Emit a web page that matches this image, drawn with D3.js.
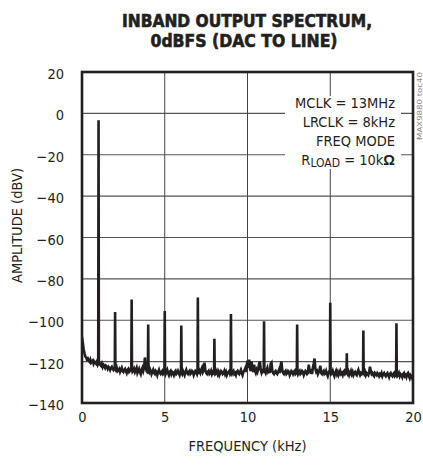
<!DOCTYPE html>
<html><head><meta charset="utf-8">
<script src="https://cdn.jsdelivr.net/npm/d3@7"></script>
<style>
body{margin:0;background:#fff}
svg{display:block}
text{font-family:"Liberation Sans Narrow","Arial Narrow","DejaVu Sans Condensed",sans-serif;fill:#231f20}
</style>
</head><body>
<svg id="chart" width="423" height="465"></svg>
<script>
// ---------------- data ----------------
const titleLines = ["INBAND OUTPUT SPECTRUM,", "0dBFS (DAC TO LINE)"];
const xLabel = "FREQUENCY (kHz)";
const yLabel = "AMPLITUDE (dBV)";
const xTicks = [0, 5, 10, 15, 20];
const yTicks = [20, 0, -20, -40, -60, -80, -100, -120, -140];
const legendLines = ["MCLK = 13MHz", "LRCLK = 8kHz", "FREQ MODE"];
const figureId = "MAX9880 toc40";

// noise floor sampled every 0.05 kHz, 0 .. 20 kHz (dBV)
const noiseStepKHz = 0.05;
const noiseFloor = [
 -108,-111,-114,-116,-117.5,-118,-119,-118.5,-119.5,-120,-119,-120.5,-120,-119.5,-121,-120,-120.5,-121,-120,-121.5,
 -121,-120.5,-121.5,-122,-121,-122.5,-121.5,-122,-123,-122,-122.5,-123.5,-122.5,-123,-124,-123,-122.5,-123.5,-124,-123,
 -123.5,-124,-123,-124.5,-124,-123.5,-125,-124,-123,-124.5,-125,-124,-123.5,-124.5,-125.5,-124,-123.5,-125,-124.5,-123.5,
 -124,-125,-124.5,-123.5,-125,-124,-123,-125.5,-124.5,-123.5,-125,-126,-124,-123,-124.5,-123,-118,-122.5,-124.5,-125,
 -124.5,-125,-123.5,-124.5,-126,-125,-124,-125.5,-126,-124.5,-125,-126.5,-125,-124,-125.5,-126,-125,-124.5,-126,-125.5,
 -125,-126,-125,-124,-125.5,-126.5,-125,-124.5,-126,-125,-125.5,-126.5,-125,-124.5,-126,-125.5,-124.5,-125.5,-126.5,-125,
 -125.5,-126,-124.5,-125.5,-126.5,-125,-124,-125.5,-126,-125,-124.5,-126,-125.5,-124.5,-125,-126.5,-125.5,-124.5,-125,-126,
 -125,-126,-124.5,-125.5,-124,-123,-125,-124,-120.5,-124,-125.5,-126,-125,-124.5,-126,-125.5,-124.5,-126,-125,-125.5,
 -125,-126,-125.5,-124.5,-126,-125,-126.5,-125.5,-124.5,-125,-126,-125.5,-124.5,-126,-125,-126.5,-125.5,-125,-124.5,-126,
 -125.5,-126,-125,-124.5,-126,-125.5,-126.5,-125,-124.5,-125.5,-126,-125,-124,-125.5,-126.5,-125,-124.5,-123.5,-125,-122,
 -119.5,-123,-119,-123.5,-124.5,-120,-124,-125,-121.5,-124.5,-125.5,-124,-125,-123.5,-121,-120,-124,-125.5,-124.5,-125,
 -125,-124.5,-125.5,-124,-123,-125,-124.5,-125.5,-121,-120.5,-124.5,-125.5,-126,-125,-124.5,-125.5,-126,-125,-124,-125.5,
 -122,-120,-124,-125.5,-126,-125,-124.5,-126,-125.5,-124.5,-125,-126.5,-125.5,-124.5,-125,-126,-125,-124.5,-126,-125.5,
 -125,-126,-125,-124.5,-126,-125.5,-124.5,-125,-126.5,-125.5,-124.5,-125,-126,-125.5,-121.5,-124,-125,-124.5,-126,-123,
 -121,-118.5,-123.5,-125,-124.5,-126,-125,-124,-122,-125.5,-126,-125,-124.5,-126,-125.5,-124.5,-126,-127,-125.5,-124.5,
 -125,-126,-125.5,-124.5,-126,-127,-125.5,-124.5,-126,-125,-126.5,-125.5,-124.5,-126,-125.5,-126.5,-125,-124.5,-126,-125.5,
 -125.5,-126,-125,-126.5,-125.5,-124.5,-126,-125,-126.5,-125.5,-125,-126,-126.5,-125,-124,-125.5,-126.5,-125.5,-126,-125,
 -125.5,-126,-125,-126.5,-125.5,-126,-126.5,-125,-122.5,-124.5,-126,-125.5,-126.5,-127,-125.5,-126,-126.5,-125.5,-126,-127,
 -126,-126.5,-125.5,-127,-126,-125.5,-126.5,-127,-126,-125.5,-126.5,-127.5,-126,-125.5,-126.5,-127,-126,-125.5,-127,-126.5,
 -126,-127,-126.5,-125.5,-127,-126,-126.5,-127.5,-126,-125.5,-127,-126.5,-127.5,-126,-125.5,-127,-128,-126.5,-127,-128,
 -127.5
];

// fundamental and harmonic spurs (kHz, dBV)
const spurFreqs = [1, 2, 3, 4, 5, 6, 7, 8, 9, 11, 13, 15, 16, 17, 19];
const spurAmps  = [-3.3, -96, -90, -102, -95.5, -102.5, -89, -109, -97, -100.5, -102, -91.5, -116, -105, -101.5];

// ---------------- chart ----------------
const svg = d3.select("#chart");
const M = {left: 82, right: 413, top: 72, bottom: 403};
const FONT = "'Liberation Sans Narrow','Arial Narrow','DejaVu Sans Condensed',sans-serif";

const x = d3.scaleLinear().domain([0, 20]).range([M.left, M.right]);
const y = d3.scaleLinear().domain([-140, 20]).range([M.bottom, M.top]);

// build line points from noise floor + spurs
const spurIdx = new Set(spurFreqs.map(f => Math.round(f / noiseStepKHz)));
let pts = noiseFloor.map((a, i) => ({f: i * noiseStepKHz, a}))
  .filter((p, i) => !spurIdx.has(i));
spurFreqs.forEach((f, k) => {
  const base = noiseFloor[Math.round(f / noiseStepKHz)];
  pts.push({f: f - 0.02, a: base}, {f: f, a: spurAmps[k]}, {f: f + 0.02, a: base});
});
pts.sort((a, b) => a.f - b.f);

// grid
const grid = svg.append("g");
grid.selectAll("line.h").data(yTicks.filter(v => v > -140 && v < 20)).join("line")
  .attr("x1", M.left).attr("x2", M.right)
  .attr("y1", d => y(d)).attr("y2", d => y(d))
  .attr("stroke", "#555").attr("stroke-width", 1.2);
grid.selectAll("line.v").data(xTicks.filter(v => v > 0 && v < 20)).join("line")
  .attr("y1", M.top).attr("y2", M.bottom)
  .attr("x1", d => x(d)).attr("x2", d => x(d))
  .attr("stroke", "#444").attr("stroke-width", 1);

// clip
svg.append("clipPath").attr("id", "clip").append("rect")
  .attr("x", M.left).attr("y", M.top).attr("width", M.right - M.left).attr("height", M.bottom - M.top);

// legend background (covers grid)
svg.append("rect").attr("x", 285).attr("y", 96).attr("width", 116).attr("height", 73).attr("fill", "#fff");

// spectrum line
const line = d3.line().x(d => x(d.f)).y(d => y(d.a));
svg.append("path").datum(pts)
  .attr("clip-path", "url(#clip)")
  .attr("d", line)
  .attr("fill", "none").attr("stroke", "#231f20").attr("stroke-width", 2.6)
  .attr("stroke-linejoin", "miter").attr("stroke-miterlimit", 4);

// frame
svg.append("rect").attr("x", M.left).attr("y", M.top)
  .attr("width", M.right - M.left).attr("height", M.bottom - M.top)
  .attr("fill", "none").attr("stroke", "#231f20").attr("stroke-width", 2.6);

// axes labels
const xAxis = d3.axisBottom(x).tickValues(xTicks).tickSize(0).tickPadding(0);
const gx = svg.append("g").attr("transform", `translate(0,${M.bottom})`).call(xAxis);
gx.select(".domain").remove();
gx.selectAll("text").attr("y", 19).attr("dy", 0).attr("font-size", 14.5).style("fill", "#231f20")
  .style("font-family", FONT);

const yAxis = d3.axisLeft(y).tickValues(yTicks).tickSize(0).tickPadding(0);
const gy = svg.append("g").attr("transform", `translate(${M.left - 18},0)`).call(yAxis);
gy.select(".domain").remove();
gy.selectAll("text").attr("x", 0).attr("dy", "0.45em").attr("font-size", 14.5).style("fill", "#231f20")
  .style("font-family", FONT);

// titles
svg.selectAll("text.title").data(titleLines).join("text")
  .attr("class", "title")
  .attr("x", (d, i) => i === 0 ? 247 : 244)
  .attr("y", (d, i) => i === 0 ? 27 : 47)
  .attr("text-anchor", "middle")
  .attr("font-size", 18).attr("font-weight", "bold")
  .attr("textLength", (d, i) => i === 0 ? 250 : 187)
  .attr("lengthAdjust", "spacingAndGlyphs")
  .style("stroke", "#231f20").style("stroke-width", 0.6)
  .text(d => d);

svg.append("text").attr("x", (M.left + M.right) / 2).attr("y", 451)
  .attr("text-anchor", "middle").attr("font-size", 14.5).text(xLabel);

svg.append("text").attr("transform", `translate(22,${(M.top + M.bottom) / 2 - 12}) rotate(-90)`)
  .attr("text-anchor", "middle").attr("font-size", 14.5).text(yLabel);

// legend
const lx = 395;
svg.selectAll("text.leg").data(legendLines).join("text")
  .attr("class", "leg")
  .attr("x", lx).attr("y", (d, i) => 108 + i * 19)
  .attr("text-anchor", "end").attr("font-size", 14.5).text(d => d);
const rl = svg.append("text").attr("x", lx).attr("y", 108 + 3 * 19)
  .attr("text-anchor", "end").attr("font-size", 14.5);
rl.append("tspan").text("R");
rl.append("tspan").attr("font-size", 12).attr("dy", 2).text("LOAD");
rl.append("tspan").attr("dy", -2).text(" = 10k");
rl.append("tspan").attr("font-weight", "bold").attr("font-family", "Liberation Sans, sans-serif").text("Ω");

// figure id
svg.append("text").attr("transform", "translate(422,72) rotate(-90)")
  .attr("text-anchor", "end").attr("font-size", 7).attr("textLength", 68)
  .attr("lengthAdjust", "spacingAndGlyphs")
  .style("fill", "#888").text(figureId);
</script>
</body></html>
